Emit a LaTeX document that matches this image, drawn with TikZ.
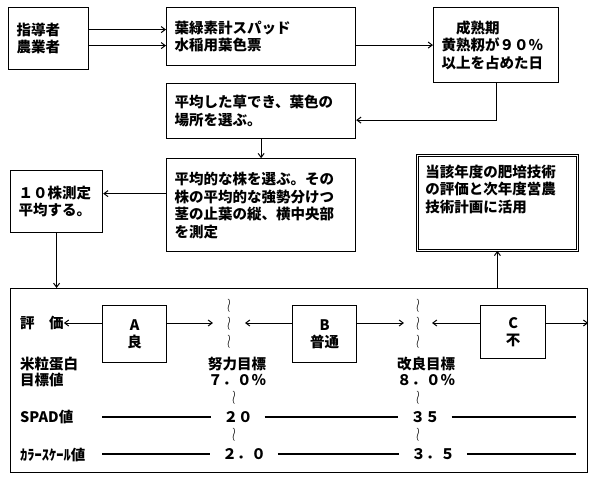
\documentclass[tikz,border=0pt]{standalone}
\usepackage{fontspec}
\setmainfont{Noto Sans CJK JP}
\usepackage{tikz}
\usetikzlibrary{arrows.meta,positioning}
\newcommand{\nami}{\scalebox{1.1}[1.6]{$\wr$}}
\tikzset{
  box/.style={draw,line width=1.2pt,anchor=north west,align=left,
    font=\fontsize{14.5}{17.5}\selectfont\bfseries,inner xsep=8pt,inner ysep=3pt},
  rank/.style={draw,line width=1.2pt,anchor=north west,align=center,
    minimum width=64pt,minimum height=57pt,font=\fontsize{14.5}{17}\selectfont\bfseries},
  lab/.style={anchor=west,inner sep=0pt,align=left,font=\fontsize{14.5}{16}\selectfont\bfseries},
  val/.style={inner xsep=12pt,inner ysep=0pt,align=center,font=\fontsize{14.5}{16}\selectfont\bfseries},
  wave/.style={inner xsep=12pt,inner ysep=0pt,align=center,font=\fontsize{13}{15}\selectfont},
  arrow/.style={-{Straight Barb[length=4pt,width=6pt]},line width=1pt},
  ruleline/.style={line width=1.2pt}
}
\begin{document}
\begin{tikzpicture}[x=1pt,y=-1pt]
\useasboundingbox (0,0) rectangle (598,480);
\node[draw,line width=1.2pt,anchor=north west,minimum width=577pt,minimum height=184pt] (frame) at (10,288) {};
% upper flow
\node[box,text width=64pt,minimum height=62pt] (owner) at (8,7) {指導者\\農業者};
\node[box,text width=173pt,minimum height=58pt] (meter) at (166,7) {葉緑素計スパッド\\水稲用葉色票};
\node[box,text width=109pt,minimum height=75pt] (ripe) at (433,7) {　成熟期\\黄熟籾が９０％\\以上を占めた日};
\node[box,text width=173pt,minimum height=55pt] (spot) at (166,83) {平均した草でき、葉色の\\場所を選ぶ。};
\node[box,text width=173pt,minimum height=93pt,below=19pt of spot] (plant) {平均的な株を選ぶ。その\\株の平均的な強勢分けつ\\茎の止葉の縦、横中央部\\を測定};
\node[box,text width=76pt,minimum height=62pt] (avg) at (10,170) {１０株測定\\平均する。};
\node[box,double,double distance=1.2pt,line width=.8pt,text width=144pt,minimum height=95pt] (apply) at (417,155) {当該年度の肥培技術\\の評価と次年度営農\\技術計画に活用\\\rule{0pt}{26pt}};
\draw[arrow] ([yshift=9pt]owner.east) -- ([yshift=9pt]owner.east -| meter.west);
\draw[arrow] ([yshift=-7pt]owner.east) -- ([yshift=-7pt]owner.east -| meter.west);
\draw[arrow] (ripe.west -| meter.east) -- (ripe.west);
\draw[arrow] (ripe) |- ([yshift=-9pt]spot.east);
\draw[arrow] (spot) -- (plant);
\draw[arrow] ([yshift=8pt]avg.east -| plant.west) -- ([yshift=8pt]avg.east);
\draw[arrow] (avg) -- (avg |- frame.north);
\draw[arrow] (frame.north -| apply) -- (apply);
% evaluation frame
\node[rank] (ra) at (102,305) {A\\良};
\node[rank] (rb) at (292,305) {B\\普通};
\node[rank,minimum width=65pt,minimum height=53pt] (rc) at (480,305) {C\\不};
\node[lab] (hyoka) at (20,323) {評　価};
\node[wave,inner xsep=14pt] (w1) at (229,324) {\nami\\\nami\\\nami};
\node[wave] (w2) at (418,324) {\nami\\\nami\\\nami};
\draw[arrow] (ra.west |- hyoka) -- (hyoka);
\draw[arrow] (ra.east |- hyoka) -- (w1.west |- hyoka);
\draw[arrow] (rb.west |- hyoka) -- (w1.east |- hyoka);
\draw[arrow] (rb.east |- hyoka) -- (w2.west |- hyoka);
\draw[arrow] (rc.west |- hyoka) -- (w2.east |- hyoka);
\draw[arrow] (rc.east |- hyoka) -- (frame.east |- hyoka);
\node[lab] (protein) at (20,372) {米粒蛋白\\目標値};
\node[val] (effort) at (237,371) {努力目標\\７．０％};
\node[val] (improve) at (426,371) {改良目標\\８．０％};
\node[wave] (w3) at (234,398) {\nami};
\node[wave] (w4) at (418,398) {\nami};
\node[wave] (w5) at (234,435) {\nami};
\node[wave] (w6) at (418,435) {\nami};
\node[lab] (spad) at (20,417) {SPAD値};
\node[val] (s20) at (238,417) {２０};
\node[val] (s35) at (425,417) {３５};
\node[lab] (color) at (20,455) {ｶﾗｰｽｹｰﾙ値};
\node[val] (c20) at (244,454) {２．０};
\node[val] (c35) at (433,454) {３．５};
\draw[ruleline] (s20 -| ra.west) -- (s20) -- (s35) -- ([xshift=-12pt]s35 -| frame.east);
\draw[ruleline] (c20 -| ra.west) -- (c20) -- (c35) -- ([xshift=-12pt]c35 -| frame.east);
\end{tikzpicture}
\end{document}
